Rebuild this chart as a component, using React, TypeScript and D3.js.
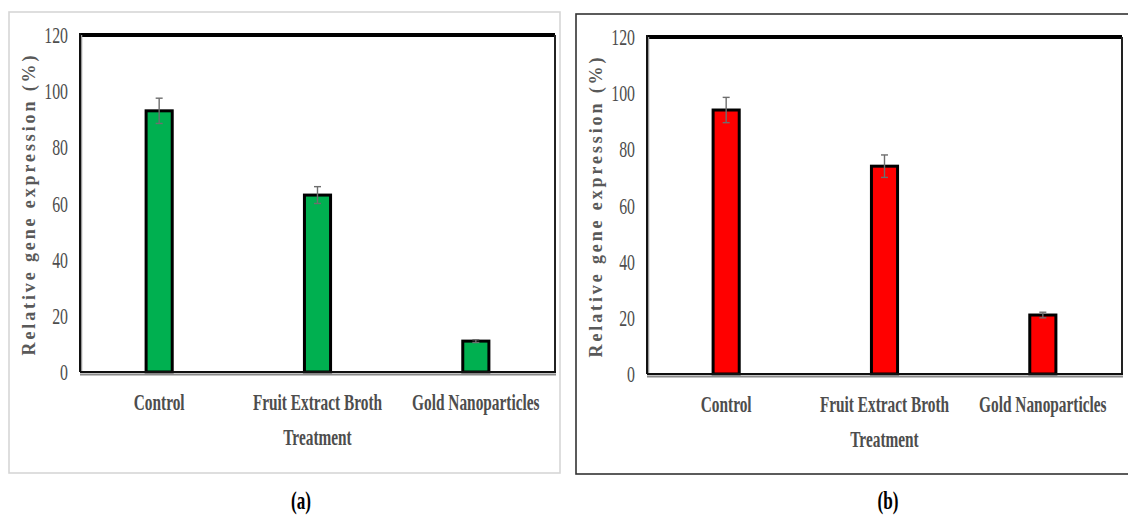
import React from "react";
import * as d3 from "d3";

// Treatment groups and measured expression levels (%)
const categories = ["Control", "Fruit Extract Broth", "Gold Nanoparticles"];
const valuesA = [93, 63, 11];
const errorsA = [4.5, 3, 0.5];
const valuesB = [94, 74, 21];
const errorsB = [4.5, 4, 1];
const yTicks = [0, 20, 40, 60, 80, 100, 120];
const yTitle = "Relative gene expression (%)";
const xTitle = "Treatment";
const panelLabels = ["(a)", "(b)"];

const W = 1128;
const H = 516;
const SERIF = "Liberation Serif, DejaVu Serif, serif";
const TEXT_GRAY = "#4d4d4d";

type PanelProps = {
  frame: { x: number; y: number; w: number; h: number; stroke: string };
  plot: { left: number; right: number; top: number; bottom: number };
  values: number[];
  errors: number[];
  fill: string;
  label: string;
  labelX: number;
};

function Panel({ frame, plot, values, errors, fill, label, labelX }: PanelProps) {
  const x = d3
    .scaleBand<string>()
    .domain(categories)
    .range([plot.left, plot.right])
    .paddingInner(0.835)
    .paddingOuter(0.4175);
  const y = d3.scaleLinear().domain([0, 120]).range([plot.bottom, plot.top]);
  const bw = x.bandwidth();
  const midX = (plot.left + plot.right) / 2;
  const midY = (plot.top + plot.bottom) / 2;

  return (
    <g>
      {/* outer panel frame */}
      <rect
        x={frame.x}
        y={frame.y}
        width={frame.w}
        height={frame.h}
        fill="#fff"
        stroke={frame.stroke}
        strokeWidth={1.6}
      />

      {/* y tick labels */}
      {yTicks.map((t) => (
        <text
          key={t}
          transform={`translate(${plot.left - 12},${y(t) + 8}) scale(0.66,1)`}
          textAnchor="end"
          fontFamily={SERIF}
          fontSize={24}
          fill={TEXT_GRAY}
        >
          {t}
        </text>
      ))}

      {/* y axis title */}
      <text
        transform={`translate(${plot.left - 45},${midY + 2}) rotate(-90)`}
        textAnchor="middle"
        fontFamily={SERIF}
        fontWeight="bold"
        fontSize={18}
        fill="#595959"
        textLength={300}
        lengthAdjust="spacing"
      >
        {yTitle}
      </text>

      {/* plot frame */}
      <line x1={plot.left} x2={plot.right} y1={plot.top} y2={plot.top} stroke="#000" strokeWidth={4} />
      <line x1={plot.right} x2={plot.right} y1={plot.top} y2={plot.bottom} stroke="#222" strokeWidth={2} />
      <line x1={plot.left + 1.5} x2={plot.left + 1.5} y1={plot.top} y2={plot.bottom} stroke="#999" strokeWidth={1.5} />
      <line x1={plot.left} x2={plot.left} y1={plot.top - 2} y2={plot.bottom} stroke="#111" strokeWidth={2} />

      {/* bars */}
      {categories.map((c, i) => (
        <rect
          key={c}
          x={x(c)!}
          y={y(values[i])}
          width={bw}
          height={y(0) - y(values[i])}
          fill={fill}
          stroke="#000"
          strokeWidth={3}
        />
      ))}

      {/* error bars */}
      {categories.map((c, i) => {
        const cx = x(c)! + bw / 2;
        const y1 = y(values[i] + errors[i]);
        const y2 = y(values[i] - errors[i]);
        return (
          <g key={c} stroke="#6e6e6e" strokeWidth={1.4}>
            <line x1={cx} x2={cx} y1={y1} y2={y2} />
            <line x1={cx - 3.5} x2={cx + 3.5} y1={y1} y2={y1} />
            <line x1={cx - 3.5} x2={cx + 3.5} y1={y2} y2={y2} />
          </g>
        );
      })}

      {/* baseline */}
      <line x1={plot.left} x2={plot.right + 1} y1={plot.bottom + 2.5} y2={plot.bottom + 2.5} stroke="#8a8a8a" strokeWidth={2} />
      <line x1={plot.left} x2={plot.right + 1} y1={plot.bottom} y2={plot.bottom} stroke="#111" strokeWidth={2.2} />

      {/* category labels */}
      {categories.map((c) => (
        <text
          key={c}
          transform={`translate(${x(c)! + bw / 2},${plot.bottom + 38}) scale(0.64,1)`}
          textAnchor="middle"
          fontFamily={SERIF}
          fontWeight="bold"
          fontSize={24}
          fill={TEXT_GRAY}
        >
          {c}
        </text>
      ))}

      {/* x axis title */}
      <text
        transform={`translate(${midX},${plot.bottom + 73}) scale(0.64,1)`}
        textAnchor="middle"
        fontFamily={SERIF}
        fontWeight="bold"
        fontSize={24}
        fill={TEXT_GRAY}
      >
        {xTitle}
      </text>

      {/* panel label */}
      <text
        transform={`translate(${labelX},509) scale(0.66,1)`}
        textAnchor="middle"
        fontFamily={SERIF}
        fontWeight="bold"
        fontSize={26}
        fill="#000"
      >
        {label}
      </text>
    </g>
  );
}

export default function App() {
  return (
    <svg
      width={W}
      height={H}
      viewBox={`0 0 ${W} ${H}`}
      style={{ position: "absolute", left: 0, top: 0, background: "#fff" }}
    >
      <rect width={W} height={H} fill="#fff" />
      <Panel
        frame={{ x: 9, y: 12, w: 551, h: 461, stroke: "#d6d6d6" }}
        plot={{ left: 80, right: 555, top: 35, bottom: 372 }}
        values={valuesA}
        errors={errorsA}
        fill="#00b050"
        label={panelLabels[0]}
        labelX={301}
      />
      <Panel
        frame={{ x: 576, y: 14, w: 560, h: 460, stroke: "#333" }}
        plot={{ left: 647, right: 1122, top: 37, bottom: 374 }}
        values={valuesB}
        errors={errorsB}
        fill="#ff0000"
        label={panelLabels[1]}
        labelX={888}
      />
    </svg>
  );
}
